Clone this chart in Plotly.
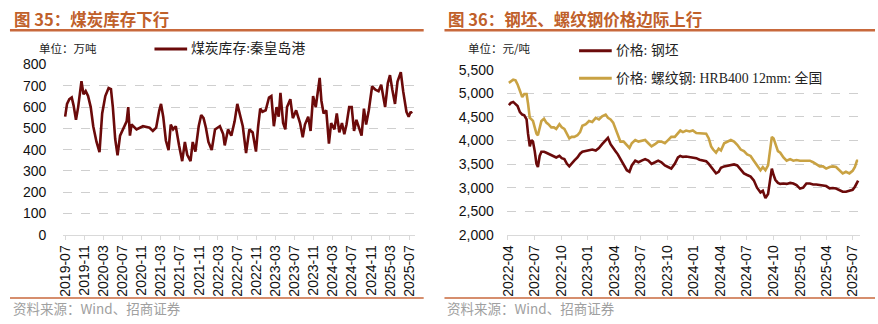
import plotly.graph_objects as go

# ---- Figure 35: Qinhuangdao port coal inventory (10k tonnes) ----
coal_dates = [
    "2019-07-01", "2019-07-13", "2019-07-28", "2019-08-12", "2019-08-24", "2019-09-08",
    "2019-09-22", "2019-10-05", "2019-10-13", "2019-10-26", "2019-11-09", "2019-11-24",
    "2019-12-11", "2019-12-27", "2020-01-17", "2020-02-05", "2020-02-22", "2020-03-13",
    "2020-04-03", "2020-04-18", "2020-04-30", "2020-05-15", "2020-05-30", "2020-06-15",
    "2020-07-06", "2020-07-27", "2020-08-06", "2020-08-17", "2020-08-27", "2020-09-28",
    "2020-11-08", "2020-12-20", "2021-01-10", "2021-01-31", "2021-02-20", "2021-03-03",
    "2021-03-17", "2021-04-03", "2021-04-20", "2021-05-04", "2021-05-19", "2021-06-05",
    "2021-06-26", "2021-07-16", "2021-08-02", "2021-08-17", "2021-09-07", "2021-09-21",
    "2021-10-08", "2021-10-29", "2021-11-14", "2021-11-29", "2021-12-14", "2021-12-30",
    "2022-01-20", "2022-02-10", "2022-03-13", "2022-04-03", "2022-04-13", "2022-05-04",
    "2022-05-25", "2022-06-15", "2022-07-02", "2022-07-16", "2022-08-06", "2022-08-27",
    "2022-09-17", "2022-10-08", "2022-10-29", "2022-11-12", "2022-11-25", "2022-12-09",
    "2022-12-30", "2023-01-20", "2023-02-04", "2023-02-20", "2023-03-09", "2023-03-23",
    "2023-04-03", "2023-04-20", "2023-05-04", "2023-05-15", "2023-06-05", "2023-06-21",
    "2023-07-12", "2023-08-06", "2023-08-23", "2023-09-06", "2023-09-27", "2023-10-12",
    "2023-10-28", "2023-11-14", "2023-11-29", "2023-12-09", "2023-12-20", "2024-01-03",
    "2024-01-20", "2024-02-06", "2024-02-20", "2024-03-12", "2024-03-27", "2024-04-12",
    "2024-04-29", "2024-05-14", "2024-05-28", "2024-06-14", "2024-06-30", "2024-07-15",
    "2024-07-30", "2024-08-15", "2024-09-01", "2024-09-16", "2024-09-30", "2024-10-17",
    "2024-11-07", "2024-11-28", "2024-12-18", "2025-01-04", "2025-01-19", "2025-01-29",
    "2025-02-15", "2025-03-01", "2025-03-16", "2025-04-02", "2025-04-18", "2025-05-09",
    "2025-05-24", "2025-06-14", "2025-06-28", "2025-07-11", "2025-07-19",
]
coal_stock = [
    555, 615, 637, 645, 607, 540,
    600, 667, 722, 660, 675, 652,
    600, 510, 436, 388, 570, 652,
    690, 685, 600, 450, 373, 466,
    503, 533, 600, 466, 518, 495,
    510, 503, 488, 503, 585, 615,
    555, 443, 398, 518, 495, 510,
    420, 346, 436, 376, 346, 436,
    391, 510, 563, 548, 503, 436,
    398, 495, 510, 473, 420, 495,
    466, 533, 615, 578, 510, 384,
    495, 481, 391, 510, 593, 578,
    585, 645, 652, 510, 600, 555,
    667, 525, 495, 600, 637, 548,
    585, 525, 458, 518, 555, 488,
    652, 600, 675, 737, 630, 570,
    585, 428, 525, 495, 570, 481,
    525, 473, 518, 600, 600, 488,
    540, 503, 466, 593, 518, 585,
    697, 682, 675, 705, 637, 600,
    712, 750, 682, 615, 720, 764,
    675, 578, 555, 578, 570,
]

# ---- Figure 36: billet and rebar prices (yuan/tonne) ----
steel_dates = [
    "2022-04-04", "2022-04-11", "2022-04-19", "2022-04-27", "2022-05-04", "2022-05-12",
    "2022-05-20", "2022-05-27", "2022-06-04", "2022-06-09", "2022-06-15", "2022-06-21",
    "2022-06-26", "2022-07-02", "2022-07-08", "2022-07-13", "2022-07-19", "2022-07-25",
    "2022-08-03", "2022-08-11", "2022-08-18", "2022-08-28", "2022-09-06", "2022-09-14",
    "2022-09-25", "2022-10-03", "2022-10-12", "2022-10-21", "2022-10-29", "2022-11-06",
    "2022-11-15", "2022-11-26", "2022-12-05", "2022-12-13", "2022-12-25", "2023-01-05",
    "2023-01-16", "2023-01-28", "2023-02-08", "2023-02-19", "2023-03-03", "2023-03-11",
    "2023-03-20", "2023-03-29", "2023-04-06", "2023-04-14", "2023-04-23", "2023-05-04",
    "2023-05-15", "2023-05-24", "2023-06-01", "2023-06-13", "2023-06-24", "2023-07-05",
    "2023-07-17", "2023-07-28", "2023-08-08", "2023-08-20", "2023-08-31", "2023-09-11",
    "2023-09-23", "2023-10-04", "2023-10-15", "2023-10-27", "2023-11-07", "2023-11-15",
    "2023-11-24", "2023-12-05", "2023-12-17", "2023-12-28", "2024-01-09", "2024-01-20",
    "2024-01-31", "2024-02-12", "2024-02-21", "2024-02-29", "2024-03-07", "2024-03-17",
    "2024-03-26", "2024-04-03", "2024-04-14", "2024-04-25", "2024-05-07", "2024-05-18",
    "2024-05-29", "2024-06-10", "2024-06-21", "2024-07-02", "2024-07-14", "2024-07-25",
    "2024-08-05", "2024-08-17", "2024-08-25", "2024-09-03", "2024-09-12", "2024-09-20",
    "2024-09-25", "2024-10-01", "2024-10-07", "2024-10-16", "2024-10-24", "2024-11-04",
    "2024-11-15", "2024-11-27", "2024-12-08", "2024-12-19", "2024-12-31", "2025-01-11",
    "2025-01-22", "2025-02-03", "2025-02-14", "2025-02-25", "2025-03-09", "2025-03-20",
    "2025-03-31", "2025-04-12", "2025-04-23", "2025-05-04", "2025-05-16", "2025-05-27",
    "2025-06-07", "2025-06-19", "2025-06-30", "2025-07-08", "2025-07-15", "2025-07-19",
]
billet_price = [
    4751, 4798, 4818, 4764, 4730, 4602,
    4549, 4535, 4447, 4144, 3875, 4010,
    3976, 3774, 3504, 3437, 3672, 3760,
    3760, 3740, 3720, 3686, 3659, 3639,
    3672, 3625, 3605, 3504, 3450, 3518,
    3571, 3639, 3720, 3760, 3774, 3787,
    3807, 3787, 3841, 3922, 4010, 4057,
    3922, 3828, 3774, 3706, 3605, 3504,
    3369, 3336, 3470, 3571, 3538, 3571,
    3605, 3571, 3504, 3538, 3571, 3538,
    3470, 3437, 3403, 3504, 3639, 3672,
    3652, 3659, 3652, 3639, 3625, 3592,
    3571, 3558, 3504, 3437, 3390, 3302,
    3336, 3423, 3450, 3463, 3463, 3491,
    3470, 3369, 3302, 3268, 3234, 3154,
    2999, 2898, 2931, 2777, 2864, 3201,
    3403, 3268, 3167, 3100, 3079, 3086,
    3079, 3100, 3086, 3052, 2979, 2999,
    3086, 3086, 3066, 3066, 3052, 3045,
    3032, 2985, 2992, 2979, 2952, 2911,
    2911, 2925, 2952, 3019, 3113, 3147,
]
rebar_price = [
    5222, 5256, 5290, 5276, 5190, 5054,
    4919, 4987, 4987, 4784, 4481, 4447,
    4414, 4279, 4144, 4110, 4279, 4414,
    4461, 4380, 4346, 4279, 4279, 4245,
    4346, 4279, 4245, 4144, 4043, 4077,
    4077, 4110, 4178, 4313, 4346, 4414,
    4394, 4481, 4447, 4515, 4549, 4481,
    4447, 4380, 4245, 4144, 3976, 3976,
    3908, 3841, 3942, 4009, 3976, 3989,
    4009, 3942, 3875, 3922, 3976, 3976,
    3942, 4009, 4077, 4077, 4144, 4211,
    4178, 4211, 4191, 4211, 4158, 4158,
    4144, 4144, 4043, 3875, 3807, 3740,
    3828, 3787, 3942, 3976, 4009, 3976,
    3908, 3807, 3774, 3706, 3672, 3571,
    3470, 3369, 3437, 3369, 3470, 3841,
    4077, 4043, 3942, 3774, 3740, 3639,
    3571, 3605, 3571, 3585, 3571, 3571,
    3585, 3571, 3538, 3504, 3450, 3450,
    3403, 3437, 3450, 3437, 3369, 3302,
    3336, 3302, 3356, 3437, 3571, 3571,
]

coal_ticks = [
    "2019-07", "2019-11", "2020-03", "2020-07", "2020-11", "2021-03", "2021-07",
    "2021-11", "2022-03", "2022-07", "2022-11", "2023-03", "2023-07", "2023-11",
    "2024-03", "2024-07", "2024-11", "2025-03", "2025-07",
]
steel_ticks = [
    "2022-04", "2022-07", "2022-10", "2023-01", "2023-04", "2023-07", "2023-10",
    "2024-01", "2024-04", "2024-07", "2024-10", "2025-01", "2025-04", "2025-07",
]

W, H = 878, 324
DARK_RED = "#6B0A0A"
GOLD = "#C9A243"
ACCENT = "#C8693C"
CJK = "Noto Sans CJK SC"
SERIF = "Liberation Serif, Noto Sans CJK SC"


def px(x):
    return x / W


def py(y):
    return 1 - y / H


fig = go.Figure()

fig.add_trace(go.Scatter(
    x=coal_dates, y=coal_stock, mode="lines", xaxis="x", yaxis="y",
    line=dict(color=DARK_RED, width=2.6), showlegend=False,
))
fig.add_trace(go.Scatter(
    x=steel_dates, y=billet_price, mode="lines", xaxis="x2", yaxis="y2",
    line=dict(color=DARK_RED, width=2.6), showlegend=False,
))
fig.add_trace(go.Scatter(
    x=steel_dates, y=rebar_price, mode="lines", xaxis="x2", yaxis="y2",
    line=dict(color=GOLD, width=2.6), showlegend=False,
))

xaxis_common = dict(
    type="date", showgrid=False, showline=True, linecolor="#D9D9D9", linewidth=1,
    ticks="outside", tickcolor="#D9D9D9", ticklen=4, tickangle=-90,
    tickfont=dict(family="Liberation Sans", size=14, color="#111"),
    zeroline=False,
)
yaxis_common = dict(
    showgrid=True, gridcolor="#CFCFCF", griddash="dash", gridwidth=1,
    zeroline=False, showline=False, ticks="",
    tickfont=dict(family="Liberation Sans", size=14, color="#111"),
)

fig.update_layout(
    width=W, height=H, margin=dict(l=0, r=0, t=0, b=0),
    paper_bgcolor="white", plot_bgcolor="white",
    xaxis=dict(**xaxis_common, domain=[px(57), px(412)],
               range=["2019-06-20", "2025-08-06"],
               tickvals=[t + "-01" for t in coal_ticks], ticktext=coal_ticks),
    yaxis=dict(**yaxis_common, domain=[py(238.5), py(59.5)], range=[0, 800],
               dtick=100, anchor="x", ticklabelstandoff=16),
    xaxis2=dict(**xaxis_common, domain=[px(505), px(862)], anchor="y2",
                range=["2022-03-28", "2025-07-26"],
                tickvals=[t + "-01" for t in steel_ticks], ticktext=steel_ticks),
    yaxis2=dict(**yaxis_common, domain=[py(238.5), py(65)], range=[2000, 5500],
                dtick=500, tickformat=",", anchor="x2", ticklabelstandoff=12),
)

shapes = []
annotations = []

# Title banners with accent rules above and below each panel
for x0, x1, title in [(3, 421, "图 35：煤炭库存下行"), (442, 877, "图 36：钢坯、螺纹钢价格边际上行")]:
    annotations.append(dict(
        x=px(x0 + 2), y=py(12), xref="paper", yref="paper", xanchor="left", yanchor="middle",
        text="<b>" + title + "</b>", showarrow=False,
        font=dict(family=CJK, size=16.5, color="#C0602A"),
    ))
    shapes.append(dict(type="line", xref="paper", yref="paper",
                       x0=px(x0), x1=px(x1), y0=py(23.5), y1=py(23.5),
                       line=dict(color=ACCENT, width=2.5)))
    shapes.append(dict(type="line", xref="paper", yref="paper",
                       x0=px(x0), x1=px(x1), y0=py(305), y1=py(305),
                       line=dict(color=ACCENT, width=1.5)))
    annotations.append(dict(
        x=px(x0 + 1), y=py(316), xref="paper", yref="paper", xanchor="left", yanchor="middle",
        text="资料来源：Wind、招商证券", showarrow=False,
        font=dict(family=CJK, size=13.5, color="#A0A0A0"),
    ))

# Unit labels
annotations.append(dict(x=px(30), y=py(42), xref="paper", yref="paper", xanchor="left",
                        yanchor="middle", text="单位：万吨", showarrow=False,
                        font=dict(family=CJK, size=11.5, color="#222")))
annotations.append(dict(x=px(464), y=py(42), xref="paper", yref="paper", xanchor="left",
                        yanchor="middle", text="单位：元/吨", showarrow=False,
                        font=dict(family=CJK, size=11.5, color="#222")))

# Legend entries
legend_items = [
    (149, 182, 43, DARK_RED, "煤炭库存:秦皇岛港"),
    (578, 611, 45, DARK_RED, "价格: 钢坯"),
    (578, 611, 74, GOLD, "价格: 螺纹钢: HRB400 12mm: 全国"),
]
for lx0, lx1, ly, color, label in legend_items:
    shapes.append(dict(type="line", xref="paper", yref="paper",
                       x0=px(lx0), x1=px(lx1), y0=py(ly), y1=py(ly),
                       line=dict(color=color, width=3)))
    annotations.append(dict(x=px(lx1 + 2), y=py(ly), xref="paper", yref="paper",
                            xanchor="left", yanchor="middle", text=label, showarrow=False,
                            font=dict(family=SERIF, size=13.8, color="#222")))

fig.update_layout(shapes=shapes, annotations=annotations)

fig.write_html("out.html")
